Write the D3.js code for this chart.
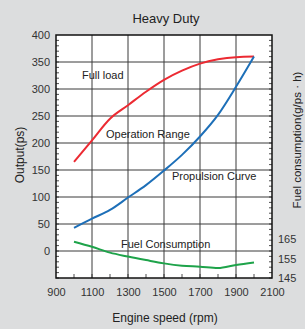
<!DOCTYPE html>
<html>
<head>
<meta charset="utf-8">
<script src="https://cdn.jsdelivr.net/npm/d3@7"></script>
<style>
  body { margin: 0; background: #dcddde; overflow: hidden; }
  svg { display: block; font-family: "Liberation Sans", Arial, sans-serif; }
</style>
</head>
<body>
<div id="vis"></div>
<script>
// chart values
const RPM = [1000, 1100, 1200, 1300, 1400, 1500, 1600, 1700, 1800, 1900, 2000];
const FULL_LOAD = [165, 205, 245, 270, 295, 317, 334, 347, 355, 359, 360];
const PROPULSION = [43, 60, 76, 99, 122, 149, 178, 212, 252, 304, 360];
const FUEL = [163.6, 161, 158, 156, 154.2, 152.5, 151.3, 150.8, 150.1, 151.7, 153];
const X_TICKS = [900, 1100, 1300, 1500, 1700, 1900, 2100];
const Y_TICKS = [0, 50, 100, 150, 200, 250, 300, 350, 400];
const FUEL_TICKS = [145, 155, 165];

const FRAME_WIDTH = 305;
const FRAME_HEIGHT = 329;
const MARGINS = {left: 56, right: 33, top: 35, bottom: 51};

const FRAME = d3.select("#vis")
                .append("svg")
                  .attr("width", FRAME_WIDTH)
                  .attr("height", FRAME_HEIGHT);

const X_SCALE = d3.scaleLinear()
                  .domain([900, 2100])
                  .range([MARGINS.left, FRAME_WIDTH - MARGINS.right]);
const Y_SCALE = d3.scaleLinear()
                  .domain([-50, 400])
                  .range([FRAME_HEIGHT - MARGINS.bottom, MARGINS.top]);
// right axis: 145 at the bottom, 10 units ~ 19.5px
const Y2_SCALE = d3.scaleLinear()
                   .domain([145, 165])
                   .range([FRAME_HEIGHT - MARGINS.bottom, FRAME_HEIGHT - MARGINS.bottom - 39]);

const L = MARGINS.left, R = FRAME_WIDTH - MARGINS.right;
const T = MARGINS.top, B = FRAME_HEIGHT - MARGINS.bottom;

// plot background
FRAME.append("rect")
     .attr("x", L).attr("y", T)
     .attr("width", R - L).attr("height", B - T)
     .attr("fill", "#fff");

// grid lines
FRAME.selectAll(".vgrid")
     .data(X_TICKS.slice(1, -1))
     .enter()
     .append("line")
       .attr("x1", d => X_SCALE(d)).attr("x2", d => X_SCALE(d))
       .attr("y1", T).attr("y2", B)
       .attr("stroke", "#3a3a3a").attr("stroke-width", 1);
FRAME.selectAll(".hgrid")
     .data(Y_TICKS.slice(0, -1))
     .enter()
     .append("line")
       .attr("x1", L).attr("x2", R)
       .attr("y1", d => Y_SCALE(d)).attr("y2", d => Y_SCALE(d))
       .attr("stroke", "#3a3a3a").attr("stroke-width", 1);

// minor ticks inside the frame
FRAME.selectAll(".lminor")
     .data(d3.range(-50, 400, 10))
     .enter()
     .append("line")
       .attr("x1", L).attr("x2", L + 3)
       .attr("y1", d => Y_SCALE(d)).attr("y2", d => Y_SCALE(d))
       .attr("stroke", "#222").attr("stroke-width", 0.8);
FRAME.selectAll(".rminor")
     .data(d3.range(-50, 400, 10))
     .enter()
     .append("line")
       .attr("x1", R - 3).attr("x2", R)
       .attr("y1", d => Y_SCALE(d)).attr("y2", d => Y_SCALE(d))
       .attr("stroke", "#222").attr("stroke-width", 0.8);
FRAME.selectAll(".bminor")
     .data(d3.range(1000, 2100, 100))
     .enter()
     .append("line")
       .attr("x1", d => X_SCALE(d)).attr("x2", d => X_SCALE(d))
       .attr("y1", B - 4).attr("y2", B)
       .attr("stroke", "#222").attr("stroke-width", 0.8);

// frame border
FRAME.append("rect")
     .attr("x", L).attr("y", T)
     .attr("width", R - L).attr("height", B - T)
     .attr("fill", "none")
     .attr("stroke", "#111").attr("stroke-width", 1.5);

// axes (labels only, lines are drawn by the frame)
const xAxis = FRAME.append("g")
     .attr("transform", "translate(0," + B + ")")
     .call(d3.axisBottom(X_SCALE).tickValues(X_TICKS).tickSize(0).tickPadding(10).tickFormat(d3.format("d")));
const yAxis = FRAME.append("g")
     .attr("transform", "translate(" + L + ",0)")
     .call(d3.axisLeft(Y_SCALE).tickValues(Y_TICKS).tickSize(0).tickPadding(6));
const y2Axis = FRAME.append("g")
     .attr("transform", "translate(" + R + ",0)")
     .call(d3.axisRight(Y2_SCALE).tickValues(FUEL_TICKS).tickSize(0).tickPadding(6));
[xAxis, yAxis, y2Axis].forEach(g => {
  g.select(".domain").remove();
  g.selectAll("text")
   .attr("font-size", "11px")
   .attr("font-family", "'Liberation Sans', Arial, sans-serif")
   .attr("fill", "#333");
});

// curves
const line = d3.line().x((d, i) => X_SCALE(RPM[i])).curve(d3.curveMonotoneX);
FRAME.append("path")
     .datum(FULL_LOAD)
     .attr("d", line.y(d => Y_SCALE(d)))
     .attr("fill", "none").attr("stroke", "#ec2a32").attr("stroke-width", 2);
FRAME.append("path")
     .datum(PROPULSION)
     .attr("d", line.y(d => Y_SCALE(d)))
     .attr("fill", "none").attr("stroke", "#1d6fb8").attr("stroke-width", 2);
FRAME.append("path")
     .datum(FUEL)
     .attr("d", line.y(d => Y2_SCALE(d)))
     .attr("fill", "none").attr("stroke", "#1ea34a").attr("stroke-width", 2);

// curve labels
const LABELS = [
  {t: "Full load", x: 82, y: 79},
  {t: "Operation Range", x: 106, y: 138},
  {t: "Propulsion Curve", x: 172, y: 180},
  {t: "Fuel Consumption", x: 121, y: 248}
];
FRAME.selectAll(".lbl")
     .data(LABELS)
     .enter()
     .append("text")
       .attr("x", d => d.x).attr("y", d => d.y)
       .attr("font-size", "11px").attr("fill", "#222")
       .text(d => d.t);

// titles
FRAME.append("text")
     .attr("x", 166).attr("y", 23)
     .attr("text-anchor", "middle")
     .attr("font-size", "13px").attr("fill", "#222")
     .text("Heavy Duty");
FRAME.append("text")
     .attr("x", 165).attr("y", 322)
     .attr("text-anchor", "middle")
     .attr("font-size", "12px").attr("fill", "#222")
     .text("Engine speed (rpm)");
FRAME.append("text")
     .attr("transform", "translate(24,155) rotate(-90)")
     .attr("text-anchor", "middle")
     .attr("font-size", "12px").attr("fill", "#222")
     .text("Output(ps)");
FRAME.append("text")
     .attr("transform", "translate(301,140) rotate(-90)")
     .attr("text-anchor", "middle")
     .attr("font-size", "11.5px").attr("fill", "#222")
     .text("Fuel consumption(g/ps · h)");
</script>
</body>
</html>
